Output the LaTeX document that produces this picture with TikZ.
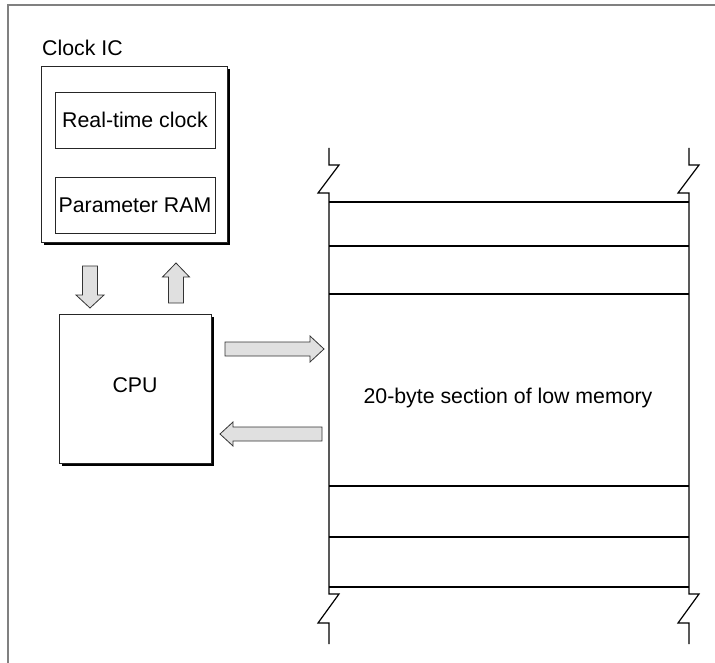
\documentclass[tikz,border=0pt]{standalone}
\usepackage{fontspec}
\setmainfont{Liberation Sans}
\usetikzlibrary{shadows}
\begin{document}
\begin{tikzpicture}[x=1pt, y=-1pt,
  font=\fontsize{21.3}{25}\selectfont,
  chip/.style={draw=black!85, line width=0.8pt, fill=white, inner sep=0pt,
    drop shadow={shadow xshift=3pt, shadow yshift=-3pt, fill=black, opacity=1}},
  part/.style={draw=black!85, line width=0.8pt, inner sep=0pt},
  blockarrow/.style={draw=black!80, fill=black!12, line width=0.8pt, line join=miter},
  memline/.style={line width=1.2pt, line join=miter},
  frameline/.style={draw=black!50, line width=1.5pt}]
  \useasboundingbox (0,0) rectangle (715,663);

  % page frame
  \draw[frameline] (715,5) -- (8,5) -- (8,663);

  % clock chip with its two parts
  \node[anchor=west, inner sep=0pt] (iclabel) at (42,48) {Clock IC};
  \node[chip, anchor=north west, minimum width=186pt, minimum height=176pt] (clockic) at (41,66) {};
  \node[part, minimum width=160pt, minimum height=56pt] (rtc) at (135,120) {Real-time clock};
  \node[part, minimum width=160pt, minimum height=56pt] (pram) at (135,205) {Parameter RAM};

  % processor
  \node[chip, anchor=north west, minimum width=152pt, minimum height=149pt] (cpu) at (59,314) {};
  \node (cputext) at (135,385) {CPU};

  % block arrows between chip, processor and memory
  \coordinate (d0) at (90,266);
  \coordinate (d1) at (90,308);
  \draw[blockarrow] (d0) ++(-7.5,0) -- ++(15,0) -- ++(0,29) -- ++(6.5,0) -- (d1)
    -- ++(-14,-13) -- ++(6.5,0) -- cycle;

  \coordinate (u0) at (176,263);
  \coordinate (u1) at (176,303);
  \draw[blockarrow] (u1) ++(-7.5,0) -- ++(15,0) -- ++(0,-26) -- ++(6,0) -- (u0)
    -- ++(-13.5,14) -- ++(6,0) -- cycle;

  \coordinate (r0) at (225,349);
  \coordinate (r1) at (324,349);
  \draw[blockarrow] (r0) ++(0,-7) -- ++(85,0) -- ++(0,-6) -- (r1)
    -- ++(-14,13) -- ++(0,-6) -- ++(-85,0) -- cycle;

  \coordinate (l0) at (322,434);
  \coordinate (l1) at (220,434);
  \draw[blockarrow] (l0) ++(0,-7) -- ++(-89,0) -- ++(0,-5) -- (l1)
    -- ++(13,12) -- ++(0,-5) -- ++(89,0) -- cycle;

  % memory column with break marks at both ends
  \foreach \mx in {329,689} {
    \draw[memline] (\mx,148) -- (\mx,165) -- (\mx+10,165) -- (\mx-11,193) -- (\mx,193)
      -- (\mx,594) -- (\mx+10,594) -- (\mx-11,623) -- (\mx,623) -- (\mx,644);
  }
  \foreach \my in {202,246,294,486,537,587} {
    \draw[memline] (329,\my) -- (689,\my);
  }
  \node (memtext) at (508,398) {20-byte section of low memory};
\end{tikzpicture}
\end{document}
